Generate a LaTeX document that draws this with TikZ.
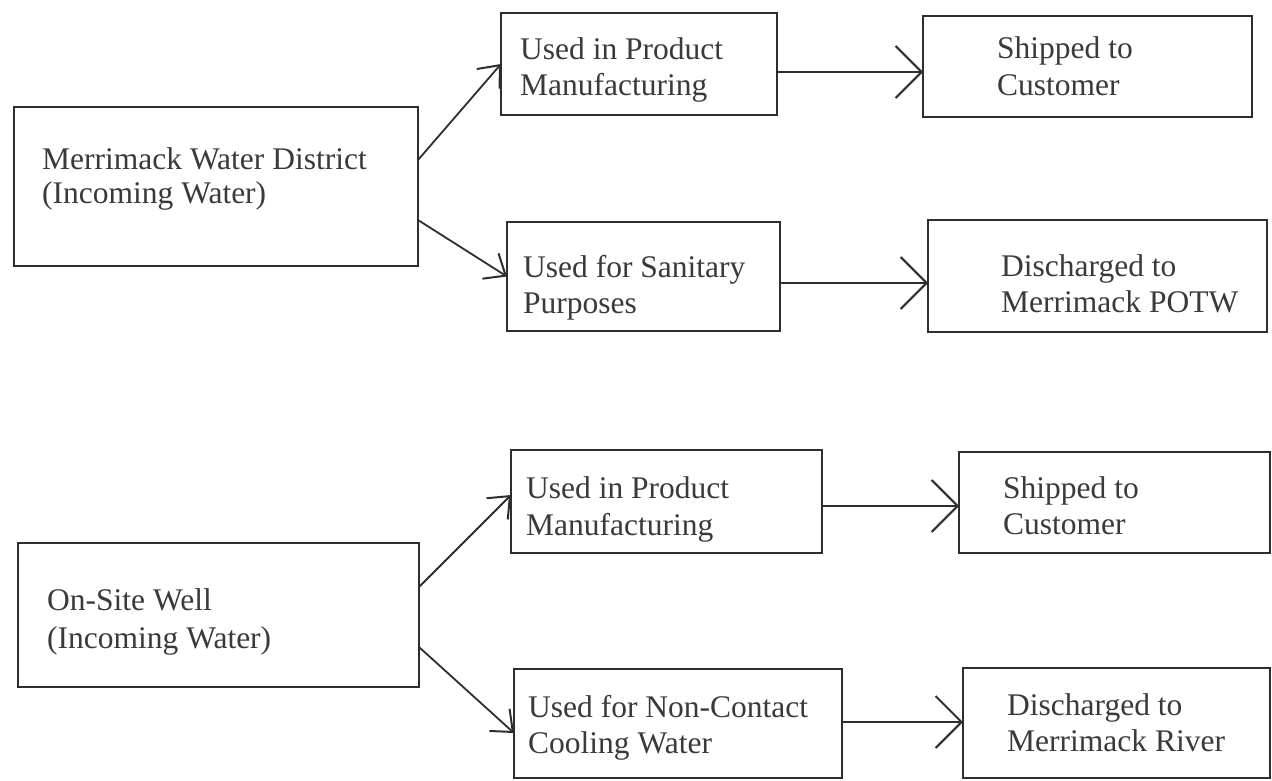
\documentclass[tikz,border=0pt]{standalone}
\usepackage{fontspec}
\setmainfont{Liberation Serif}
\usetikzlibrary{arrows.meta}
\definecolor{ink}{HTML}{2E2E2E}
\definecolor{txtink}{HTML}{3A3A3A}
\begin{document}
\begin{tikzpicture}[x=1pt,y=-1pt,
  box/.style={draw=ink, line width=2pt, rectangle, inner sep=0pt, outer sep=0pt, anchor=north west},
  txt/.style={inner sep=0pt, anchor=base west, text=txtink, font=\fontsize{31.5}{36}\selectfont},
  harr/.style={draw=ink, line width=2pt, -{Straight Barb[length=26pt,width=52pt,line width=2pt]}},
  darr/.style={draw=ink, line width=1.8pt, -{Straight Barb[length=18pt,width=30pt,line width=2pt]}}]
\fill[white] (0,0) rectangle (1272,780);
\useasboundingbox (0,0) rectangle (1272,780);

% boxes
\node[box, minimum width=404pt, minimum height=159pt] (A)  at (14,107)  {};
\node[box, minimum width=276pt, minimum height=102pt] (B1) at (501,13)  {};
\node[box, minimum width=329pt, minimum height=101pt] (C1) at (923,16)  {};
\node[box, minimum width=273pt, minimum height=109pt] (B2) at (507,222) {};
\node[box, minimum width=339pt, minimum height=112pt] (C2) at (928,220) {};
\node[box, minimum width=401pt, minimum height=144pt] (D)  at (18,543)  {};
\node[box, minimum width=311pt, minimum height=103pt] (E1) at (511,450) {};
\node[box, minimum width=311pt, minimum height=101pt] (F1) at (959,452) {};
\node[box, minimum width=328pt, minimum height=109pt] (E2) at (514,669) {};
\node[box, minimum width=307pt, minimum height=110pt] (F2) at (963,668) {};

% texts
\node[txt] (ta1) at (42,169) {Merrimack Water District};
\node[txt] (ta2) at (42,203) {(Incoming Water)};
\node[txt] (tb11) at (520,59) {Used in Product};
\node[txt] (tb12) at (520,95) {Manufacturing};
\node[txt] (tc11) at (997,58) {Shipped to};
\node[txt] (tc12) at (997,95) {Customer};
\node[txt] (tb21) at (523,277) {Used for Sanitary};
\node[txt] (tb22) at (523,313) {Purposes};
\node[txt] (tc21) at (1001,276) {Discharged to};
\node[txt] (tc22) at (1001,312) {Merrimack POTW};
\node[txt] (td1) at (47,610) {On-Site Well};
\node[txt] (td2) at (47,648) {(Incoming Water)};
\node[txt] (te11) at (526,498) {Used in Product};
\node[txt] (te12) at (526,535) {Manufacturing};
\node[txt] (tf11) at (1003,498) {Shipped to};
\node[txt] (tf12) at (1003,534) {Customer};
\node[txt] (te21) at (528,717) {Used for Non-Contact};
\node[txt] (te22) at (528,753) {Cooling Water};
\node[txt] (tf21) at (1007,715) {Discharged to};
\node[txt] (tf22) at (1007,751) {Merrimack River};

% diagonal connectors
\draw[darr] ([yshift=26.5pt]A.east) -- (B1.west);
\draw[darr] ([yshift=-33.5pt]A.east) -- (B2.west);
\draw[darr] ([yshift=28pt]D.east) -- ([yshift=6.5pt]E1.west);
\draw[darr] ([yshift=-32pt]D.east) -- ([yshift=-9.5pt]E2.west);

% horizontal connectors
\draw[harr] ([yshift=-8pt]B1.east) -- ([yshift=-8pt]B1.east -| C1.west);
\draw[harr] ([yshift=-6.5pt]B2.east) -- ([yshift=-6.5pt]B2.east -| C2.west);
\draw[harr] ([yshift=-4.5pt]E1.east) -- ([yshift=-4.5pt]E1.east -| F1.west);
\draw[harr] ([yshift=1.5pt]E2.east) -- ([yshift=1.5pt]E2.east -| F2.west);
\end{tikzpicture}
\end{document}
